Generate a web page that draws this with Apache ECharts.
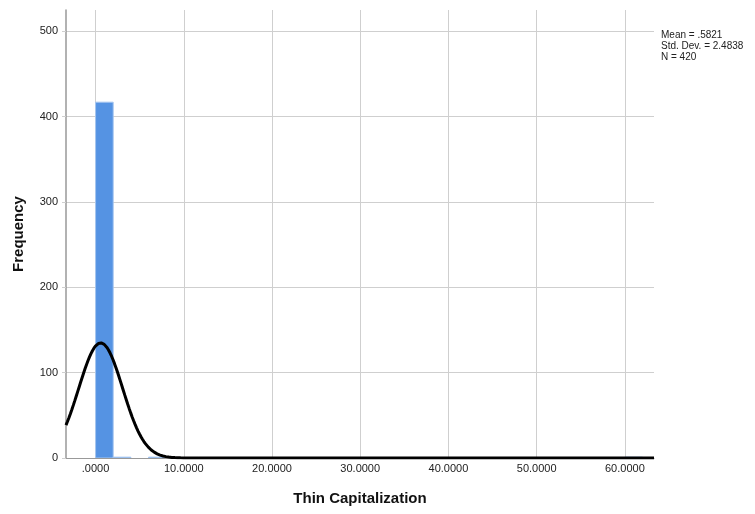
<!DOCTYPE html>
<html><head><meta charset="utf-8">
<script src="https://cdn.jsdelivr.net/npm/echarts@6/dist/echarts.min.js"></script>
<style>html,body{margin:0;padding:0;background:#fff}#c{width:755px;height:514px}</style>
</head><body><div id="c"></div>
<script>
// Histogram bins (start, end) and frequencies
const binStarts = [0, 2, 6, 60];
const binEnds   = [2, 4, 8, 62];
const binCounts = [417, 1, 1, 1];
// Reported statistics
const statMean = 0.5821;
const statSD = 2.4838;
const statN = 420;
const binWidth = 2;
const statsLines = ['Mean = .5821', 'Std. Dev. = 2.4838', 'N = 420'];
const xMin = -3.35, xMax = 63.3;
const yMin = 0, yMax = 525;

const barData = binStarts.map((s, i) => [s, binEnds[i], binCounts[i]]);
// Normal curve implied by the reported mean, SD and N
const curve = [];
for (let i = 0; i <= 400; i++) {
  const x = xMin + (xMax - xMin) * i / 400;
  const z = (x - statMean) / statSD;
  curve.push([x, statN * binWidth * Math.exp(-0.5 * z * z) / (statSD * Math.sqrt(2 * Math.PI))]);
}

const chart = echarts.init(document.getElementById('c'), null, {renderer: 'canvas'});
const font = 'Liberation Sans, Arial, sans-serif';
chart.setOption({
  animation: false,
  grid: {left: 66, right: 101, top: 10, bottom: 56},
  title: {
    text: statsLines.join('\n'), left: 661, top: 30, padding: 0,
    textStyle: {fontFamily: font, fontSize: 10, fontWeight: 'normal', color: '#222', lineHeight: 11}
  },
  xAxis: {
    type: 'value', min: xMin, max: xMax, splitNumber: 5,
    name: 'Thin Capitalization', nameLocation: 'middle', nameGap: 33,
    nameTextStyle: {fontFamily: font, fontSize: 15, fontWeight: 'bold', color: '#111'},
    axisLine: {show: true, onZero: false, lineStyle: {color: '#999', width: 1}},
    axisTick: {show: false},
    axisLabel: {fontFamily: font, fontSize: 11, color: '#222', margin: 5, showMinLabel: false, showMaxLabel: false,
      formatter: v => (v === 0 ? '.0000' : v.toFixed(4))},
    splitLine: {show: true, showMinLine: false, showMaxLine: false, lineStyle: {color: '#cfcfcf', width: 1}}
  },
  yAxis: {
    type: 'value', min: yMin, max: yMax, interval: 100,
    name: 'Frequency', nameLocation: 'middle', nameGap: 40,
    nameTextStyle: {fontFamily: font, fontSize: 15, fontWeight: 'bold', color: '#111'},
    axisLine: {show: true, onZero: false, lineStyle: {color: '#999', width: 1.5}},
    axisTick: {show: true, length: 4, inside: false, lineStyle: {color: '#cfcfcf'}},
    axisLabel: {fontFamily: font, fontSize: 11, color: '#222', margin: 8, showMaxLabel: false},
    splitLine: {show: true, showMaxLine: false, lineStyle: {color: '#cfcfcf', width: 1}}
  },
  series: [
    {
      type: 'custom', data: barData, clip: true,
      encode: {x: [0, 1], y: 2},
      renderItem: (params, api) => {
        const p0 = api.coord([api.value(0), api.value(2)]);
        const p1 = api.coord([api.value(1), 0]);
        return {type: 'rect', shape: {x: p0[0], y: p0[1], width: p1[0] - p0[0], height: p1[1] - p0[1]},
          style: {fill: '#5593e3', stroke: '#a6c6f0', lineWidth: 1}};
      }
    },
    {
      type: 'line', data: curve, showSymbol: false, smooth: false, clip: true,
      lineStyle: {color: '#000', width: 3}, z: 5
    }
  ]
});
</script></body></html>
